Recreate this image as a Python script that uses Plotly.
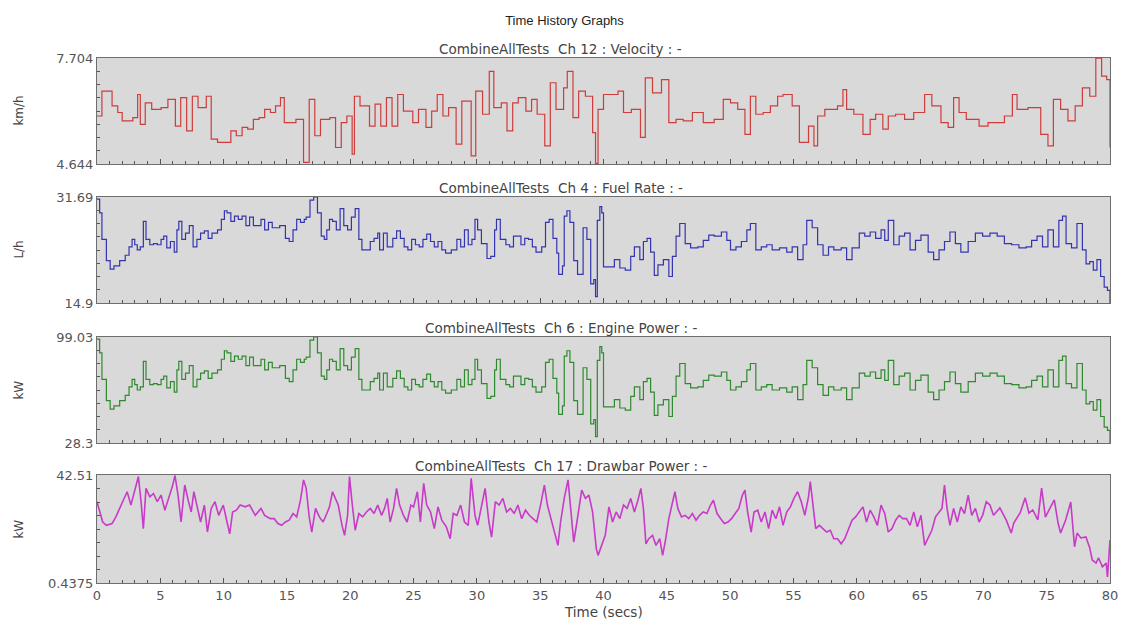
import plotly.graph_objects as go

# ---- Ch 12 : Velocity (km/h) ----
vel_t = [0.00, 0.39, 1.19, 1.64, 1.99, 2.83, 3.21, 3.42, 3.81, 4.32,
         5.06, 5.60, 6.19, 6.61, 7.08, 7.53, 7.98, 8.63, 9.02, 9.52,
         10.57, 11.00, 11.46, 11.90, 12.35, 12.80, 13.24, 13.70, 14.10, 14.49,
         14.79, 15.71, 16.31, 16.76, 17.20, 17.65, 18.39, 18.84, 19.29, 19.73,
         20.15, 20.33, 20.77, 21.52, 21.96, 22.41, 22.86, 23.30, 23.75, 24.20,
         24.94, 25.39, 25.98, 26.43, 26.87, 27.32, 27.77, 28.36, 28.81, 29.55,
         29.91, 30.45, 30.98, 31.34, 31.93, 32.38, 32.83, 33.27, 33.87, 34.32,
         34.76, 35.36, 35.80, 36.25, 36.85, 37.14, 37.59, 38.04, 38.57, 39.14,
         39.37, 39.57, 40.00, 41.15, 41.58, 42.20, 42.92, 43.30, 43.87, 44.58,
         45.16, 45.73, 46.30, 47.02, 47.88, 48.74, 49.46, 50.03, 50.60, 51.17,
         51.60, 52.03, 52.61, 53.18, 53.75, 54.18, 54.90, 55.47, 56.19, 56.62,
         56.91, 57.48, 58.48, 58.91, 59.20, 59.77, 60.49, 61.06, 61.49, 62.06,
         62.49, 63.07, 63.78, 64.50, 65.36, 65.93, 66.65, 67.22, 67.65, 68.08,
         68.65, 69.66, 70.37, 71.66, 72.29, 72.66, 73.52, 74.53, 75.10, 75.53,
         76.10, 76.68, 77.25, 77.82, 78.40, 78.88, 79.34, 79.74, 80.00]
vel_v = [6.03, 6.75, 6.32, 6.13, 5.89, 5.98, 6.65, 5.79, 6.41, 6.22,
         6.27, 6.51, 5.74, 6.56, 5.60, 6.60, 6.27, 6.60, 5.36, 5.27,
         5.60, 5.46, 5.70, 5.65, 5.93, 5.98, 6.22, 6.13, 6.32, 6.56,
         5.84, 5.93, 4.69, 6.51, 5.46, 5.93, 5.98, 5.12, 5.84, 6.03,
         4.93, 6.60, 6.32, 5.74, 6.37, 5.74, 6.56, 5.74, 6.65, 6.17,
         5.84, 6.22, 5.70, 6.17, 6.65, 6.03, 6.27, 5.22, 6.46, 4.88,
         6.75, 6.08, 7.32, 6.27, 6.41, 5.60, 6.41, 6.56, 6.17, 6.51,
         6.08, 5.17, 6.99, 6.22, 6.84, 7.32, 5.98, 6.75, 6.60, 5.55,
         4.66, 6.22, 6.65, 6.75, 6.13, 6.22, 5.41, 7.13, 6.70, 7.08,
         5.84, 5.93, 5.89, 6.13, 5.84, 5.93, 6.51, 6.41, 6.22, 5.50,
         6.60, 6.08, 6.13, 6.32, 6.60, 6.65, 6.32, 5.27, 5.74, 5.17,
         6.03, 6.22, 6.32, 6.79, 6.22, 6.08, 5.50, 5.93, 6.08, 5.65,
         6.03, 6.08, 5.93, 6.13, 6.65, 6.32, 5.84, 5.70, 6.56, 6.13,
         5.93, 5.74, 5.84, 6.03, 6.65, 6.22, 6.27, 5.50, 5.17, 6.51,
         6.22, 5.89, 6.32, 6.84, 6.60, 7.70, 7.18, 7.08, 5.12]

# ---- Ch 4 : Fuel Rate (L/h) and Ch 6 : Engine Power (kW), same sample times ----
eng_t = [0.00, 0.21, 0.39, 0.74, 1.04, 1.34, 1.79, 2.23, 2.53, 2.77,
         2.98, 3.18, 3.42, 3.66, 3.87, 4.17, 4.46, 4.76, 5.06, 5.27,
         5.51, 5.80, 6.10, 6.31, 6.46, 6.70, 6.99, 7.29, 7.59, 7.89,
         8.18, 8.48, 8.78, 9.08, 9.52, 9.82, 10.06, 10.27, 10.57, 10.86,
         11.16, 11.46, 11.76, 12.05, 12.35, 12.65, 12.95, 13.24, 13.54, 13.84,
         14.43, 14.88, 15.18, 15.48, 15.77, 16.07, 16.37, 16.52, 16.82, 17.11,
         17.41, 17.71, 17.95, 18.15, 18.36, 18.60, 18.90, 19.20, 19.49, 19.79,
         20.09, 20.39, 20.68, 20.92, 21.28, 21.58, 21.88, 22.17, 22.32, 22.62,
         22.92, 23.36, 23.66, 23.96, 24.26, 24.55, 24.85, 25.15, 25.45, 25.74,
         26.04, 26.34, 26.64, 26.93, 27.23, 27.53, 27.98, 28.42, 28.72, 29.02,
         29.32, 29.61, 29.85, 30.06, 30.36, 30.80, 31.10, 31.40, 31.55, 31.85,
         32.29, 32.59, 32.89, 33.48, 33.78, 34.08, 34.38, 34.67, 35.12, 35.42,
         35.71, 36.01, 36.31, 36.46, 36.76, 36.90, 37.11, 37.35, 37.65, 37.95,
         38.39, 38.69, 38.99, 39.23, 39.37, 39.51, 39.71, 39.86, 40.00, 40.43,
         40.86, 41.29, 41.72, 42.15, 42.44, 42.87, 43.15, 43.44, 43.72, 44.01,
         44.30, 44.73, 45.16, 45.44, 45.73, 46.02, 46.45, 46.88, 47.45, 47.88,
         48.31, 48.74, 49.31, 49.74, 50.03, 50.46, 50.89, 51.32, 51.60, 52.03,
         52.46, 52.89, 53.32, 53.90, 54.47, 54.90, 55.33, 55.76, 56.05, 56.48,
         56.91, 57.34, 57.77, 58.19, 58.77, 59.20, 59.63, 60.20, 60.63, 61.06,
         61.49, 61.92, 62.21, 62.49, 62.92, 63.35, 63.78, 64.21, 64.64, 65.07,
         65.64, 66.07, 66.50, 66.93, 67.36, 67.79, 68.22, 68.80, 69.37, 69.94,
         70.52, 71.09, 71.66, 72.23, 72.81, 73.38, 73.81, 74.24, 74.67, 75.10,
         75.53, 75.96, 76.25, 76.53, 76.96, 77.39, 77.82, 78.11, 78.40, 78.68,
         78.97, 79.26, 79.54, 79.80, 80.00]
fuel_v = [31.35, 29.17, 24.97, 21.62, 20.27, 20.78, 21.62, 22.46, 23.80, 24.97,
          24.13, 23.30, 23.80, 27.83, 24.97, 24.13, 24.30, 24.13, 24.97, 25.48,
          23.63, 24.64, 22.96, 26.49, 27.83, 24.97, 25.98, 27.16, 23.80, 24.97,
          25.98, 26.32, 25.14, 25.98, 26.49, 28.16, 29.51, 29.17, 27.83, 28.67,
          28.16, 28.67, 27.16, 28.50, 27.16, 27.16, 28.16, 26.49, 27.66, 26.82,
          27.16, 25.14, 24.64, 26.49, 28.16, 27.66, 28.16, 28.50, 31.19, 31.69,
          29.17, 25.48, 24.97, 26.49, 28.16, 27.83, 26.49, 29.84, 27.16, 26.49,
          28.50, 29.84, 24.97, 23.30, 23.30, 24.64, 25.14, 25.98, 23.30, 25.98,
          23.80, 25.14, 26.32, 25.14, 23.80, 23.30, 24.97, 24.13, 23.80, 24.97,
          25.81, 24.64, 23.80, 24.64, 23.30, 22.79, 23.30, 24.97, 23.80, 26.49,
          24.13, 24.97, 28.16, 26.49, 24.30, 21.95, 22.29, 26.49, 28.16, 24.97,
          24.13, 23.80, 25.48, 24.13, 25.14, 24.97, 23.80, 22.96, 23.80, 27.66,
          28.16, 25.14, 22.79, 19.43, 20.78, 28.67, 29.51, 27.66, 21.62, 19.43,
          26.82, 24.97, 17.92, 18.59, 15.91, 28.00, 30.18, 29.17, 20.61, 20.61,
          21.78, 20.44, 20.10, 22.29, 23.80, 21.78, 24.64, 25.14, 22.96, 19.27,
          20.94, 21.78, 19.10, 22.29, 25.48, 27.49, 24.30, 23.63, 23.80, 24.81,
          25.65, 25.48, 26.15, 24.81, 23.30, 23.80, 24.64, 26.49, 27.49, 23.30,
          23.80, 24.13, 23.30, 23.63, 22.96, 23.80, 21.78, 24.13, 28.00, 26.82,
          24.13, 22.46, 23.80, 23.30, 23.63, 21.78, 23.63, 25.98, 25.48, 26.15,
          25.14, 26.49, 24.81, 28.00, 24.13, 25.48, 25.98, 23.30, 24.81, 25.65,
          22.96, 21.78, 23.30, 24.64, 26.15, 24.30, 22.96, 24.64, 25.98, 25.48,
          25.98, 25.48, 24.30, 24.13, 23.63, 23.80, 24.81, 25.48, 23.80, 26.49,
          23.80, 28.00, 28.67, 24.30, 23.63, 27.49, 23.30, 21.11, 21.45, 20.10,
          21.78, 19.10, 17.42, 16.91, 14.90]
power_v = [97.62, 88.42, 70.74, 56.59, 50.93, 53.06, 56.59, 60.13, 65.79, 70.74,
           67.20, 63.67, 65.79, 82.76, 70.74, 67.20, 67.91, 67.20, 70.74, 72.86,
           65.08, 69.32, 62.25, 77.10, 82.76, 70.74, 74.98, 79.93, 65.79, 70.74,
           74.98, 76.40, 71.45, 74.98, 77.10, 84.18, 89.84, 88.42, 82.76, 86.30,
           84.18, 86.30, 79.93, 85.59, 79.93, 79.93, 84.18, 77.10, 82.05, 78.52,
           79.93, 71.45, 69.32, 77.10, 84.18, 82.05, 84.18, 85.59, 96.91, 99.03,
           88.42, 72.86, 70.74, 77.10, 84.18, 82.76, 77.10, 91.25, 79.93, 77.10,
           85.59, 91.25, 70.74, 63.67, 63.67, 69.32, 71.45, 74.98, 63.67, 74.98,
           65.79, 71.45, 76.40, 71.45, 65.79, 63.67, 70.74, 67.20, 65.79, 70.74,
           74.27, 69.32, 65.79, 69.32, 63.67, 61.54, 63.67, 70.74, 65.79, 77.10,
           67.20, 70.74, 84.18, 77.10, 67.91, 58.01, 59.42, 77.10, 84.18, 70.74,
           67.20, 65.79, 72.86, 67.20, 71.45, 70.74, 65.79, 62.25, 65.79, 82.05,
           84.18, 71.45, 61.54, 47.40, 53.06, 86.30, 89.84, 82.05, 56.59, 47.40,
           78.52, 70.74, 41.03, 43.86, 32.54, 83.47, 92.66, 88.42, 52.35, 52.35,
           57.30, 51.64, 50.23, 59.42, 65.79, 57.30, 69.32, 71.45, 62.25, 46.69,
           53.76, 57.30, 45.98, 59.42, 72.86, 81.35, 67.91, 65.08, 65.79, 70.03,
           73.57, 72.86, 75.69, 70.03, 63.67, 65.79, 69.32, 77.10, 81.35, 63.67,
           65.79, 67.20, 63.67, 65.08, 62.25, 65.79, 57.30, 67.20, 83.47, 78.52,
           67.20, 60.13, 65.79, 63.67, 65.08, 57.30, 65.08, 74.98, 72.86, 75.69,
           71.45, 77.10, 70.03, 83.47, 67.20, 72.86, 74.98, 63.67, 70.03, 73.57,
           62.25, 57.30, 63.67, 69.32, 75.69, 67.91, 62.25, 69.32, 74.98, 72.86,
           74.98, 72.86, 67.91, 67.20, 65.08, 65.79, 70.03, 72.86, 65.79, 77.10,
           65.79, 83.47, 86.30, 67.91, 65.08, 81.35, 63.67, 54.47, 55.88, 50.23,
           57.30, 45.98, 38.91, 36.79, 28.30]

# ---- Ch 17 : Drawbar Power (kW) ----
bar_t = [0.00, 0.21, 0.45, 0.74, 1.19, 1.49, 1.79, 2.08, 2.38, 2.68,
         2.98, 3.27, 3.48, 3.66, 3.87, 4.17, 4.46, 4.76, 5.06, 5.36,
         5.65, 5.95, 6.16, 6.40, 6.64, 6.93, 7.23, 7.44, 7.65, 7.89,
         8.18, 8.48, 8.72, 9.02, 9.32, 9.61, 9.97, 10.27, 10.48, 10.71,
         11.01, 11.31, 11.70, 12.05, 12.50, 12.95, 13.24, 13.69, 13.99, 14.29,
         14.58, 14.88, 15.18, 15.48, 15.77, 16.07, 16.31, 16.52, 16.76, 16.96,
         17.26, 17.56, 17.86, 18.15, 18.36, 18.60, 18.84, 19.05, 19.35, 19.55,
         19.79, 19.94, 20.15, 20.39, 20.68, 20.98, 21.28, 21.58, 21.88, 22.17,
         22.47, 22.71, 22.92, 23.15, 23.42, 23.66, 23.90, 24.20, 24.49, 24.79,
         25.00, 25.30, 25.54, 25.80, 26.04, 26.34, 26.64, 26.93, 27.23, 27.59,
         27.89, 28.13, 28.42, 28.72, 29.02, 29.32, 29.55, 29.85, 30.06, 30.36,
         30.65, 30.95, 31.16, 31.46, 31.76, 32.05, 32.35, 32.65, 32.95, 33.24,
         33.54, 33.84, 34.14, 34.43, 34.73, 35.03, 35.33, 35.57, 35.86, 36.16,
         36.40, 36.61, 36.90, 37.20, 37.45, 37.65, 37.90, 38.10, 38.28, 38.57,
         38.85, 39.14, 39.43, 39.57, 39.86, 40.14, 40.43, 40.72, 41.00, 41.29,
         41.58, 41.86, 42.15, 42.44, 42.72, 42.95, 43.15, 43.35, 43.58, 43.87,
         44.15, 44.44, 44.67, 44.87, 45.16, 45.44, 45.64, 45.87, 46.16, 46.45,
         46.73, 47.02, 47.31, 47.59, 47.88, 48.17, 48.45, 48.68, 48.97, 49.26,
         49.54, 49.83, 50.11, 50.40, 50.69, 50.97, 51.17, 51.38, 51.66, 51.89,
         52.18, 52.46, 52.75, 53.04, 53.32, 53.61, 53.90, 54.18, 54.47, 54.76,
         55.04, 55.33, 55.62, 55.90, 56.19, 56.33, 56.53, 56.76, 57.05, 57.34,
         57.62, 57.91, 58.19, 58.48, 58.77, 59.05, 59.34, 59.63, 59.91, 60.20,
         60.49, 60.77, 61.06, 61.35, 61.63, 61.92, 62.21, 62.49, 62.78, 63.07,
         63.35, 63.64, 63.93, 64.21, 64.50, 64.79, 65.07, 65.36, 65.64, 65.93,
         66.22, 66.50, 66.73, 66.93, 67.13, 67.36, 67.65, 67.94, 68.22, 68.51,
         68.80, 69.08, 69.37, 69.66, 69.94, 70.23, 70.52, 70.80, 71.30, 71.80,
         72.20, 72.40, 72.90, 73.30, 73.60, 73.90, 74.30, 74.60, 74.90, 75.30,
         75.60, 75.90, 76.10, 76.50, 76.90, 77.20, 77.40, 77.70, 78.10, 78.40,
         78.60, 78.90, 79.10, 79.40, 79.70, 79.80, 80.00]
bar_v = [32.1, 28.1, 24.2, 22.9, 23.6, 26.2, 29.5, 32.1, 36.0, 30.8,
         36.0, 41.9, 32.1, 21.6, 37.3, 34.0, 35.3, 32.1, 34.7, 28.8,
         33.4, 38.0, 42.3, 34.7, 24.2, 38.6, 32.1, 28.1, 36.0, 30.8,
         24.2, 30.8, 20.3, 29.5, 32.1, 26.8, 30.8, 24.2, 19.6, 28.1,
         28.8, 30.8, 30.1, 30.8, 26.8, 29.5, 26.8, 25.5, 25.5, 23.6,
         22.9, 24.2, 24.9, 27.5, 26.2, 32.7, 40.6, 37.3, 26.2, 20.3,
         29.5, 26.2, 24.2, 27.5, 30.1, 36.0, 33.4, 30.8, 22.9, 19.0,
         26.8, 41.9, 31.4, 21.0, 27.5, 26.2, 28.1, 29.5, 27.5, 30.8,
         26.8, 29.5, 33.4, 24.2, 29.5, 37.3, 30.8, 26.8, 24.2, 30.8,
         30.1, 36.0, 24.2, 39.3, 30.8, 28.1, 21.6, 30.1, 24.9, 22.3,
         17.7, 27.5, 26.8, 30.8, 24.2, 22.9, 41.2, 26.8, 22.9, 30.8,
         37.3, 24.2, 18.3, 32.1, 30.8, 33.4, 28.1, 29.5, 27.5, 30.8,
         25.5, 28.8, 26.8, 25.5, 24.2, 30.8, 38.6, 30.8, 25.5, 20.3,
         15.1, 24.2, 33.4, 40.6, 28.1, 16.4, 24.2, 30.8, 36.6, 33.4,
         34.7, 28.1, 13.8, 11.2, 15.1, 19.0, 30.1, 24.2, 28.1, 25.5,
         30.8, 29.5, 33.4, 28.1, 32.7, 37.3, 29.5, 15.7, 17.7, 19.0,
         15.1, 17.7, 11.2, 16.4, 25.5, 32.1, 36.0, 29.5, 26.2, 26.8,
         25.5, 27.5, 24.9, 26.8, 28.1, 27.5, 30.8, 32.7, 27.5, 25.5,
         23.6, 24.2, 25.5, 27.5, 29.5, 34.7, 36.6, 28.1, 20.3, 28.1,
         28.8, 24.2, 28.1, 21.6, 28.8, 25.5, 30.1, 22.9, 28.1, 30.1,
         33.4, 36.0, 32.1, 26.8, 34.0, 39.9, 32.1, 21.6, 22.9, 21.6,
         20.3, 21.0, 17.7, 17.7, 15.7, 17.7, 21.6, 24.9, 26.2, 28.1,
         30.1, 24.2, 28.8, 26.2, 22.9, 30.8, 27.5, 20.3, 21.6, 24.9,
         26.8, 25.5, 25.5, 22.9, 28.1, 22.3, 26.8, 15.1, 17.7, 21.0,
         26.2, 28.1, 29.5, 38.6, 29.5, 22.9, 29.5, 24.2, 30.1, 27.5,
         34.7, 26.8, 29.5, 24.2, 26.8, 32.1, 30.8, 26.8, 29.7, 25.0,
         19.9, 23.8, 27.7, 33.6, 27.7, 28.9, 25.0, 37.4, 26.1, 30.0,
         32.8, 23.8, 19.9, 25.0, 32.0, 14.5, 19.9, 18.0, 18.4, 14.1,
         9.4, 8.2, 10.2, 6.7, 8.2, 2.8, 17.2]

titles = ["CombineAllTests\u00a0 Ch 12 : Velocity : -",
          "CombineAllTests\u00a0 Ch 4 : Fuel Rate : -",
          "CombineAllTests\u00a0 Ch 6 : Engine Power : -",
          "CombineAllTests\u00a0 Ch 17 : Drawbar Power : -"]
units = ["km/h", "L/h", "kW", "kW"]
y_lo = [4.644, 14.9, 28.3, 0.4375]
y_hi = [7.704, 31.69, 99.03, 42.51]
y_lo_text = ["4.644", "14.9", "28.3", "0.4375"]
y_hi_text = ["7.704", "31.69", "99.03", "42.51"]
x_ticks = [0, 5, 10, 15, 20, 25, 30, 35, 40, 45, 50, 55, 60, 65, 70, 75, 80]

series = [
    (vel_t, vel_v, "#cf3c3c", "hv", 1.2),
    (eng_t, fuel_v, "#3434b0", "hv", 1.2),
    (eng_t, power_v, "#2e8a2e", "hv", 1.2),
    (bar_t, bar_v, "#c83ac8", "linear", 1.6),
]

# page geometry (pixels)
W, H = 1129, 623
L, R, T, B = 97, 11, 58, 40
plot_h = H - T - B
panels_px = [(58, 164), (197, 303), (337, 443), (475, 583)]
domains = [[(583 - b) / plot_h, (583 - t) / plot_h] for t, b in panels_px]

fig = go.Figure()
title_font = "Liberation Sans, Arial, sans-serif"
label_font = "DejaVu Sans, Verdana, sans-serif"
axis_grey = "#6e6e6e"
tick_grey = "#555555"

for i, (xs, ys, col, shape, lw) in enumerate(series):
    n = i + 1
    xa = "x" if n == 1 else f"x{n}"
    ya = "y" if n == 1 else f"y{n}"
    fig.add_trace(go.Scatter(x=xs, y=ys, mode="lines",
                             line=dict(color=col, width=lw, shape=shape),
                             xaxis=xa, yaxis=ya, showlegend=False,
                             hoverinfo="skip"))
    xkey = "xaxis" if n == 1 else f"xaxis{n}"
    ykey = "yaxis" if n == 1 else f"yaxis{n}"
    span = y_hi[i] - y_lo[i]
    fig.layout[xkey] = dict(
        domain=[0, 1], range=[0, 80], anchor=ya,
        tickmode="array", tickvals=x_ticks,
        showticklabels=(n == 4),
        ticks="inside", ticklen=5, tickcolor=tick_grey, tickwidth=1,
        minor=dict(ticks="inside", ticklen=3, tickcolor=tick_grey,
                   tickmode="linear", tick0=0, dtick=1, showgrid=False),
        showgrid=False, zeroline=False,
        showline=True, linecolor=axis_grey, linewidth=1, mirror=True,
        tickfont=dict(size=13, color=tick_grey, family=label_font),
    )
    fig.layout[ykey] = dict(
        domain=domains[i], range=[y_lo[i], y_hi[i]], anchor=xa,
        tickmode="array", tickvals=[y_lo[i], y_hi[i]],
        ticktext=[y_lo_text[i], y_hi_text[i]],
        ticks="inside", ticklen=5, tickcolor=tick_grey,
        minor=dict(ticks="inside", ticklen=3, tickcolor=tick_grey,
                   tickmode="linear", tick0=y_lo[i], dtick=span / 8,
                   showgrid=False),
        showgrid=False, zeroline=False,
        showline=True, linecolor=axis_grey, linewidth=1, mirror=True,
        tickfont=dict(size=13, color=tick_grey, family=label_font),
    )
    # panel heading
    fig.add_annotation(text=titles[i], xref="paper", yref="paper",
                       x=(W / 2 - L) / (W - L - R), y=domains[i][1],
                       xanchor="center", yanchor="bottom", yshift=-1,
                       showarrow=False,
                       font=dict(size=13.5, color="#444444", family=label_font))
    # unit label
    fig.add_annotation(text=units[i], xref="paper", yref="paper",
                       x=-(L - 18) / (W - L - R), y=sum(domains[i]) / 2,
                       xanchor="center", yanchor="middle", textangle=-90,
                       showarrow=False,
                       font=dict(size=12, color="#444444", family=label_font))

fig.add_annotation(text="Time (secs)", xref="paper", yref="paper",
                   x=0.5, y=-(612 - 583) / plot_h, xanchor="center",
                   yanchor="middle", showarrow=False,
                   font=dict(size=13.5, color="#444444", family=label_font))

fig.update_layout(
    width=W, height=H,
    margin=dict(l=L, r=R, t=T, b=B),
    paper_bgcolor="white",
    plot_bgcolor="#d9d9d9",
    title=dict(text="Time History Graphs", x=0.5, xref="container",
               y=1 - 20 / H, yref="container", xanchor="center",
               yanchor="middle",
               font=dict(size=13, color="#1e1e1e", family=title_font)),
)

fig.write_html("out.html")
